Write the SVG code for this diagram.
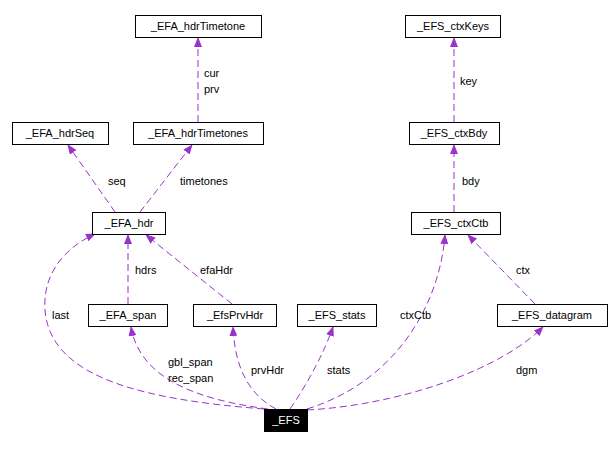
<svg xmlns="http://www.w3.org/2000/svg" width="612" height="449" viewBox="0 0 612 449">
<defs>
<marker id="a" markerWidth="10" markerHeight="8" refX="9" refY="4" orient="auto" markerUnits="userSpaceOnUse">
<path d="M0,0 L10,4 L0,8 Z" fill="#9a32cd"/>
</marker>
<style>
.n rect{fill:#fff;stroke:#000;stroke-width:1}
text{font-family:"Liberation Sans",Arial,sans-serif;font-size:11px;fill:#000}
.n text{text-anchor:middle}
.e path{fill:none;stroke:#9a32cd;stroke-dasharray:7,4;marker-end:url(#a)}
</style>
</defs>
<rect width="612" height="449" fill="#fff"/>
<g class="e">
<path d="M198,122 L198,38"/>
<path d="M454,122 L454,38"/>
<path d="M454,212 L454,145"/>
<path d="M115,212 L68,145"/>
<path d="M140,212 L192,145"/>
<path d="M128,304 L128,235"/>
<path d="M232,304 L146,235"/>
<path d="M535,304 L468,235"/>
<path d="M264,409 C150,400 50,380 45,310 C42,270 70,245 95,234"/>
<path d="M268,409 C200,400 140,380 131,327"/>
<path d="M276,409 C250,395 235,370 233,327"/>
<path d="M290,409 C310,380 325,350 333,327"/>
<path d="M307,409 C400,380 440,300 445,235"/>
<path d="M307,410 C400,405 500,370 543,327"/>
</g>
<g>
<text x="204" y="77">cur</text><text x="204" y="93">prv</text>
<text x="460" y="85">key</text>
<text x="462" y="185">bdy</text>
<text x="108" y="185">seq</text>
<text x="180" y="185">timetones</text>
<text x="135" y="274">hdrs</text>
<text x="200" y="274">efaHdr</text>
<text x="516" y="274">ctx</text>
<text x="52" y="319">last</text>
<text x="400" y="319">ctxCtb</text>
<text x="168" y="366">gbl_span</text><text x="168" y="382">rec_span</text>
<text x="251" y="374">prvHdr</text>
<text x="327" y="374">stats</text>
<text x="516" y="374">dgm</text>
</g>
<g id="hdrTimetone" class="n"><rect x="135.5" y="15.5" width="126" height="22"/><text x="198" y="30">_EFA_hdrTimetone</text></g>
<g id="ctxKeys" class="n"><rect x="405.5" y="15.5" width="95" height="22"/><text x="453" y="30">_EFS_ctxKeys</text></g>
<g id="hdrSeq" class="n"><rect x="12.5" y="122.5" width="96" height="22"/><text x="60" y="137">_EFA_hdrSeq</text></g>
<g id="hdrTimetones" class="n"><rect x="133.5" y="122.5" width="130" height="22"/><text x="198" y="137">_EFA_hdrTimetones</text></g>
<g id="ctxBdy" class="n"><rect x="409.5" y="122.5" width="90" height="22"/><text x="454" y="137">_EFS_ctxBdy</text></g>
<g id="hdr" class="n"><rect x="92.5" y="212.5" width="73" height="22"/><text x="129" y="227">_EFA_hdr</text></g>
<g id="ctxCtb" class="n"><rect x="411.5" y="212.5" width="89" height="22"/><text x="456" y="227">_EFS_ctxCtb</text></g>
<g id="span" class="n"><rect x="88.5" y="304.5" width="79" height="22"/><text x="128" y="319">_EFA_span</text></g>
<g id="prvHdr" class="n"><rect x="193.5" y="304.5" width="83" height="22"/><text x="235" y="319">_EfsPrvHdr</text></g>
<g id="stats" class="n"><rect x="297.5" y="304.5" width="79" height="22"/><text x="337" y="319">_EFS_stats</text></g>
<g id="datagram" class="n"><rect x="497.5" y="304.5" width="110" height="22"/><text x="552" y="319">_EFS_datagram</text></g>
<g id="EFS" class="n"><rect x="264.5" y="409.5" width="43" height="22" style="fill:#000"/><text x="286" y="424" style="fill:#fff">_EFS</text></g>
</svg>
